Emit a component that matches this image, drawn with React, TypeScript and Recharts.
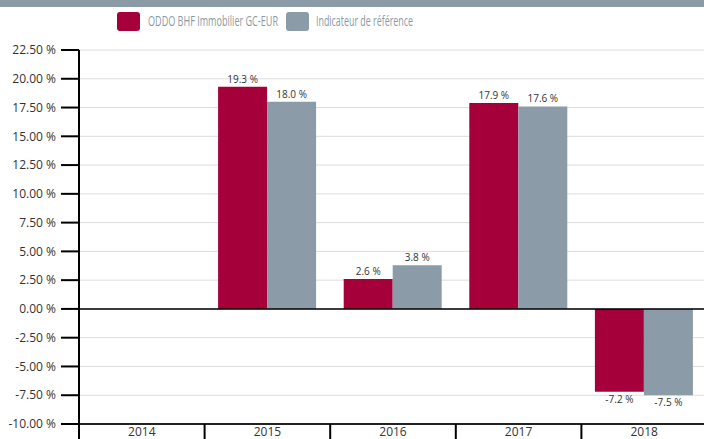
import React from 'react';
import { BarChart, Bar, XAxis, YAxis, CartesianGrid, ReferenceLine, LabelList } from 'recharts';

const years = ['2014', '2015', '2016', '2017', '2018'];
const fundValues: (number | null)[] = [null, 19.3, 2.6, 17.9, -7.2];
const benchValues: (number | null)[] = [null, 18.0, 3.8, 17.6, -7.5];
const yTicks = [-10, -7.5, -5, -2.5, 0, 2.5, 5, 7.5, 10, 12.5, 15, 17.5, 20, 22.5];

const fundName = 'ODDO BHF Immobilier GC-EUR';
const benchName = 'Indicateur de référence';

const RED = '#a6003a';
const GREY = '#8b9ba7';
const FONT = '"Open Sans", sans-serif';

const CHART_W = 712;
const CHART_H = 439;
const MARGIN = { top: 50, right: 5, bottom: 0, left: 0 };
const Y_AXIS_W = 79;
const X_AXIS_H = 15;
const halfBand = (CHART_W - MARGIN.left - MARGIN.right - Y_AXIS_W) / years.length / 2;

const data = years.map((year, i) => ({
  year,
  fund: fundValues[i],
  bench: benchValues[i],
}));

// value label above positive bars, below negative ones
const BarValueLabel = (props: any) => {
  const { x, y, width, height, value } = props;
  if (value === null || value === undefined) return null;
  const top = Math.min(y, y + height);
  const bottom = Math.max(y, y + height);
  const ty = value >= 0 ? top - 4 : bottom + 11;
  return (
    <text x={x + width / 2} y={ty} textAnchor="middle" fontSize={10} fill="#333" fontFamily={FONT}>
      {value.toFixed(1)} %
    </text>
  );
};

// category label with separator lines between categories
const XTick = (props: any) => {
  const { x, y, payload } = props;
  return (
    <g>
      <line x1={x - halfBand} x2={x - halfBand} y1={y} y2={y + X_AXIS_H} stroke="#000" strokeWidth={2} />
      <text x={x} y={y + 12} textAnchor="middle" fontSize={12} fill="#333" fontFamily={FONT}>
        {payload.value}
      </text>
    </g>
  );
};

// narrow legend text: squeeze horizontally to the reference width
const LegendText = ({ x, label, w }: { x: number; label: string; w: number }) => {
  const sx = 0.7;
  return (
    <g transform={`translate(${x},26) scale(${sx},1)`}>
      <text x={0} y={0} fontSize={14} fill="#8a9aa6" fontFamily={FONT} textLength={w / sx} lengthAdjust="spacingAndGlyphs">
        {label}
      </text>
    </g>
  );
};

const Header = () => (
  <svg width={704} height={40} style={{ position: 'absolute', left: 0, top: 0 }}>
    <rect x={0} y={0} width={704} height={7} fill="#8a9aa6" />
    <rect x={117} y={12} width={23} height={19} rx={3} fill={RED} />
    <LegendText x={148} label={fundName} w={130} />
    <rect x={286} y={12} width={23} height={19} rx={3} fill={GREY} />
    <LegendText x={316} label={benchName} w={97} />
  </svg>
);

export default function App() {
  return (
    <div style={{ position: 'absolute', left: 0, top: 0, width: 704, height: 439, overflow: 'hidden', background: '#fff' }}>
      <BarChart
        width={CHART_W}
        height={CHART_H}
        data={data}
        margin={MARGIN}
        barCategoryGap={13.5}
        barGap={0}
      >
        <CartesianGrid vertical={false} stroke="#dddddd" />
        <XAxis
          dataKey="year"
          height={X_AXIS_H}
          tickSize={0}
          tickMargin={0}
          tick={<XTick />}
          axisLine={{ stroke: '#222', strokeWidth: 2 }}
          tickLine={false}
          interval={0}
        />
        <YAxis
          width={Y_AXIS_W}
          domain={[-10, 22.5]}
          ticks={yTicks}
          interval={0}
          tickSize={18}
          tickMargin={5}
          tickFormatter={(v: number) => `${v.toFixed(2)} %`}
          tick={{ fontSize: 12, fill: '#333', fontFamily: FONT }}
          axisLine={{ stroke: '#000', strokeWidth: 2 }}
          tickLine={{ stroke: '#000', strokeWidth: 2 }}
        />
        <Bar dataKey="fund" name={fundName} fill={RED} isAnimationActive={false}>
          <LabelList dataKey="fund" content={<BarValueLabel />} />
        </Bar>
        <Bar dataKey="bench" name={benchName} fill={GREY} isAnimationActive={false}>
          <LabelList dataKey="bench" content={<BarValueLabel />} />
        </Bar>
        <ReferenceLine y={0} stroke="#000" strokeWidth={1.5} />
      </BarChart>
      <Header />
    </div>
  );
}
